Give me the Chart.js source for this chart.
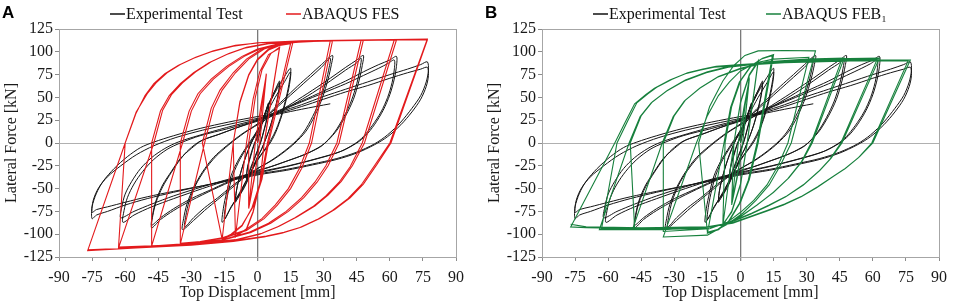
<!DOCTYPE html>
<html><head><meta charset="utf-8">
<script src="https://cdn.jsdelivr.net/npm/chart.js@4.4.1/dist/chart.umd.min.js"></script>
<style>
html,body{margin:0;padding:0;background:#fff;width:963px;height:307px;overflow:hidden}
canvas{position:absolute;top:0}
#cA{left:0}
#cB{left:483px}
</style></head>
<body>
<canvas id="cA" width="480" height="307"></canvas>
<canvas id="cB" width="480" height="307"></canvas>
<script>
// ---- tick labels ----
const xTicks = [-90,-75,-60,-45,-30,-15,0,15,30,45,60,75,90];
const yTicks = [-125,-100,-75,-50,-25,0,25,50,75,100,125];
const seriesNames = ['Experimental Test','ABAQUS FES','ABAQUS FEB\u2081'];

// ---- Experimental test (displacement mm, force kN) ----
const expL1 = [[0,0],[2,20],[4,36],[5,44],[4.5,30],[3,15],[1.5,2],[0,-8],[-2,-20],[-4,-33],[-5,-40],[-4.5,-27],[-3,-14],[-1.5,-2],[0,6],
 [2,22],[4,37],[5,43],[4.5,29],[3,14],[1.5,1],[0,-9],[-2,-22],[-4,-34],[-5,-39],[-4.5,-26],[-3,-12],[-1.5,-1],[0,8]];
const expL2 = [[2,22],[5,42],[8,58],[10,68],[9.5,55],[8,38],[6,20],[4,6],[2,-6],[0,-15],[-3,-32],[-6,-48],[-9,-60],[-10,-65],[-9.5,-52],[-8,-36],[-6,-20],[-4,-7],[-2,4],[0,12],
 [3,30],[6,48],[9,62],[10,66],[9.4,52],[7.8,35],[5.8,18],[3.8,5],[1.8,-7],[0,-16],[-3,-33],[-6,-49],[-9,-61],[-10,-64],[-9.4,-50],[-7.8,-34],[-5.8,-18],[-3.8,-5],[-1.8,5],[0,13]];
const expL3 = [[3,30],[6,46],[9,60],[12,72],[15,82],[14.5,68],[13,50],[11,32],[8.5,15],[6,3],[3,-8],[0,-18],[-4,-36],[-8,-54],[-12,-71],[-16,-87],[-15.5,-72],[-14,-54],[-12,-36],[-9,-20],[-6,-8],[-3,3],[0,14],
 [4,32],[8,50],[12,66],[15,78],[14.5,64],[13,47],[11,30],[8.5,13],[6,1],[3,-9],[0,-19],[-4,-37],[-8,-55],[-12,-70],[-15,-84],[-14.5,-69],[-13,-51],[-11,-34],[-8,-18],[-5,-6],[-2,5],[0,14]];
const expL4 = [[6,34],[12,48],[18,62],[24,75],[29,86],[34,96],[33.5,86],[32,70],[29.5,50],[26,30],[22,13],[17,0],[12,-10],[6,-20],[0,-28],[-6,-38],[-12,-50],[-18,-62],[-24,-74],[-29,-85],[-34,-95],[-33.5,-83],[-32,-67],[-29,-49],[-25,-32],[-20,-16],[-14,-3],[-7,10],[0,21],
 [6,33],[12,46],[18,59],[24,72],[29,83],[33,93],[32.5,83],[31,67],[28.5,48],[25,29],[21,12],[16.5,0],[11,-11],[5,-21],[0,-28],[-6,-37],[-12,-48],[-18,-60],[-24,-71],[-29,-82],[-33,-92],[-32.5,-80],[-31,-64],[-28,-46],[-24,-30],[-19,-15],[-13,-2],[-6,11],[0,20]];
const expL5 = [[8,32],[16,44],[25,58],[33,71],[40,83],[45,91],[48,96],[47.5,85],[46,68],[43.5,48],[40,30],[36,14],[32,3],[29,-3],[22,-12],[13,-20],[6,-26],[0,-30],[-10,-40],[-20,-51],[-30,-63],[-38,-74],[-44,-84],[-48,-93],[-47.5,-80],[-46,-65],[-43,-48],[-39,-32],[-35,-18],[-31,-7],[-26,2],[-18,9],[-9,17],[0,24],
 [8,31],[16,42],[25,55],[33,68],[40,80],[45,88],[47,93],[46.5,82],[45,65],[42.5,46],[39,28],[35,12],[31,1],[28,-5],[21,-13],[12,-21],[6,-26],[0,-31],[-10,-39],[-20,-50],[-30,-61],[-38,-72],[-44,-82],[-48,-90],[-47.5,-78],[-46,-63],[-43,-46],[-39,-31],[-35,-17],[-30,-6],[-25,3],[-17,10],[-8,18],[0,25]];
const expL6 = [[10,36],[20,46],[30,57],[40,68],[48,78],[55,86],[60,91],[63,95],[63,84],[62,70],[60,53],[57,36],[53,20],[49,8],[45,0],[38,-9],[27,-17],[14,-25],[0,-32],[-12,-39],[-25,-48],[-38,-58],[-48,-67],[-56,-75],[-62,-82],[-61.5,-70],[-60,-56],[-57,-42],[-53,-28],[-48,-16],[-42,-6],[-36,1],[-27,8],[-14,17],[0,26],
 [10,35],[20,45],[30,55],[40,65],[48,74],[55,82],[59,87],[62,91],[62,80],[61,66],[59,50],[56,34],[52,19],[48,7],[44,-1],[37,-10],[26,-18],[13,-26],[0,-33],[-12,-40],[-25,-50],[-38,-61],[-48,-70],[-56,-79],[-61,-87],[-60.5,-74],[-59,-60],[-56,-45],[-52,-31],[-47,-18],[-41,-7],[-35,0],[-26,8],[-13,16],[0,25]];
const expL7 = [[10,34],[20,42],[30,51],[40,59],[50,67],[60,75],[68,81],[74,86],[77,89],[77.5,80],[76.5,67],[74,52],[70,38],[65,23],[59,9],[53,-1],[45,-10],[36,-17],[25,-23],[13,-29],[0,-34],[-12,-40],[-25,-47],[-38,-54],[-50,-61],[-60,-68],[-68,-75],[-73,-79],[-75,-83],[-75,-70],[-73,-55],[-70,-42],[-65,-28],[-59,-15],[-53,-5],[-47,1],[-38,8],[-26,16],[-13,23],[0,29],
 [10,33],[20,40],[30,48],[40,56],[50,63],[60,71],[68,77],[74,81],[77,83],[77.5,74],[76.5,62],[74,48],[70,34],[65,20],[59,7],[53,-2],[45,-11],[36,-18],[25,-24],[13,-30],[0,-35],[-12,-41],[-25,-47],[-38,-53],[-50,-59],[-60,-65],[-68,-70],[-73,-73],[-75,-76]];
const expEnd = [[-74.5,-63],[-72,-49],[-68,-37],[-62,-25],[-55,-13],[-47,-3],[-37,6],[-25,14],[-12,21],[0,27],[10,32],[20,37],[33,43]];

// ---- ABAQUS FES (panel A) ----
const fesL1 = [[0,0],[2,40],[4,76],[1,0],[-1.5,-40],[-4,-72],[-1,0],[1.5,40],[4,75],[1,0],[-1.5,-38],[-4,-71]];
const fesL2 = [[-4,0],[-1,50],[2,80],[6,98],[10,105],[3,0],[1,-45],[-2,-75],[-5,-94],[-10,-103],[-5,0],[-2,48],[1,78],[5,97],[10,104],[3,-1],[1,-46],[-2,-76],[-5,-95],[-10,-102]];
const fesL3 = [[-11,0],[-8,45],[-4,75],[0,92],[5,103],[10,108],[16,110],[5,0],[2,-40],[-2,-70],[-7,-90],[-12,-100],[-16,-105],
 [-11,0],[-8,44],[-4,74],[0,91],[5,102],[10,107],[15,109],[4.5,0],[1.5,-41],[-2.5,-71],[-7,-91],[-12,-101],[-16,-106]];
const fesL4 = [[-25,0],[-21,38],[-17,58],[-11,77],[-5,92],[2,103],[10,109],[20,111],[34,112],[24.5,0],[20,-28],[15,-50],[9,-68],[3,-83],[-5,-96],[-15,-104],[-25,-108],[-35,-111],
 [-24,0],[-20,38],[-16,58],[-10,77],[-4,92],[3,103],[11,109],[20,111],[33,112],[23.5,0],[19,-28],[14,-50],[8,-68],[2,-83],[-6,-96],[-16,-104],[-26,-108],[-35,-110]];
const fesL5 = [[-35,0],[-31,35],[-27,54],[-21,70],[-14,84],[-7,95],[0,103],[10,109],[25,112],[48,113],[37,0],[32,-25],[27,-43],[21,-60],[14,-75],[6,-88],[-3,-98],[-15,-106],[-30,-110],[-48,-113],
 [-34,0],[-30,35],[-26,54],[-20,70],[-13,84],[-6,95],[1,103],[11,109],[25,112],[47,113],[36,0],[31,-25],[26,-43],[20,-60],[13,-75],[5,-88],[-4,-98],[-16,-106],[-30,-110],[-48,-114]];
const fesL6 = [[-48,0],[-44,35],[-40,52],[-35,65],[-29,77],[-22,88],[-14,97],[-6,104],[5,109],[30,112],[63,113],[48.5,0],[43,-25],[38,-42],[32,-57],[26,-69],[18,-81],[10,-91],[2,-99],[-10,-106],[-30,-111],[-63,-115],
 [-47,0],[-43,36],[-39,53],[-34,66],[-28,78],[-21,89],[-13,98],[-5,105],[6,110],[30,112],[62,113],[47.5,0],[42,-26],[37,-43],[31,-58],[25,-70],[17,-82],[9,-92],[1,-100],[-11,-107],[-30,-111],[-63,-114]];
const fesL7 = [[-60,0],[-55,33],[-51,52],[-47,65],[-42,76],[-36,85],[-29,93],[-21,100],[-11,106],[0,110],[20,112],[45,113],[77,114],[60,0],[53,-25],[47,-46],[41,-61],[34,-74],[27,-84],[19,-93],[11,-99],[3,-103],[-11,-108],[-30,-112],[-55,-115],[-77,-118],
 [-60,0],[-55,34],[-50,54],[-46,66],[-41,77],[-35,86],[-28,94],[-20,101],[-10,107],[1,110],[20,112],[45,113],[77,113],[60.5,0],[54,-24],[48,-45],[42,-60],[35,-73],[28,-83],[20,-92],[12,-98],[4,-102],[-10,-107],[-30,-112],[-55,-115],[-77,-117]];

// ---- ABAQUS FEB1 (panel B) ----
const febL1 = [[0,0],[2,40],[4,72],[1,0],[-1.5,-38],[-4,-68],[-1,0],[1.5,38],[4,70],[1,0],[-1.5,-36],[-4,-66]];
const febL2 = [[-3,0],[0,45],[4,75],[8,90],[3,0],[0,-45],[-4,-75],[-8,-90],[-3,0],[0,44],[4,74],[8,89],[3,-1],[0,-46],[-4,-76],[-8,-89]];
const febL3 = [[-7,0],[-4,40],[0,68],[5,85],[10,93],[15,97],[8,0],[4,-40],[0,-65],[-5,-85],[-10,-95],[-15,-99],
 [-7.5,0],[-4.5,39],[-0.5,67],[4.5,84],[9.5,92],[14.5,96],[7.5,0],[3.5,-41],[-0.5,-66],[-5.5,-86],[-10.5,-95],[-15,-98]];
const febL4 = [[-19,0],[-14,40],[-8,68],[-3,85],[2,96],[8,101],[20,101.5],[34,101],[23,0],[18,-25],[13,-46],[7,-63],[1,-77],[-6,-89],[-12,-97],[-15,-101],[-35,-103],
 [-20,0],[-15,30],[-10,52],[-5,67],[0,79],[7,88],[15,92],[31,94],[21.5,0],[17,-25],[12,-46],[6,-63],[0,-76],[-6,-87],[-14,-94],[-35,-97]];
const febL5 = [[-35,0],[-30,30],[-25,47],[-18,61],[-10,73],[0,82],[12,89],[30,92],[47,93],[32.5,0],[28,-20],[22,-38],[15,-54],[8,-67],[1,-79],[-6,-88],[-18,-94],[-49,-95],
 [-35.5,0],[-30.5,29],[-25.5,46],[-18.5,60],[-10.5,72],[-0.5,81],[11,88],[30,91],[46,92],[32,0],[27.5,-21],[21.5,-39],[14.5,-55],[7.5,-68],[0.5,-80],[-6.5,-89],[-18,-94],[-48,-94]];
const febL6 = [[-50,0],[-45,30],[-40,45],[-33,58],[-25,69],[-15,78],[-5,84],[10,88],[35,92],[63,93],[46,0],[41,-17],[36,-30],[29,-45],[21,-58],[13,-68],[5,-77],[-3,-85],[-12,-92],[-35,-95],[-64,-95],
 [-50.5,0],[-45.5,29],[-40.5,44],[-33.5,57],[-25.5,68],[-15.5,77],[-5.5,83],[9,87],[35,91],[62,92],[45.5,0],[40.5,-18],[35.5,-31],[28.5,-46],[20.5,-59],[12.5,-69],[4.5,-78],[-3.5,-86],[-12,-92],[-35,-94],[-63,-94]];
const febL7 = [[-56,0],[-51,25],[-47,44],[-42,54],[-38,61],[-31,70],[-24,77],[-17,81],[-11,84],[0,86],[20,89],[50,91],[77,91],[60,0],[54,-15],[48,-27],[43,-35],[35,-48],[28,-58],[20,-67],[12,-74],[4,-81],[-3,-87],[-15,-92],[-45,-94],[-70,-93],[-77,-92],
 [-57,0],[-52,24],[-48,43],[-43,53],[-39,60],[-32,69],[-25,76],[-18,80],[-12,83],[0,85],[20,88],[50,90],[76,90],[59.5,0],[53.5,-16],[47.5,-28],[42.5,-36],[34.5,-49],[27.5,-59],[19.5,-68],[11.5,-75],[3.5,-82],[-3.5,-88],[-15,-92],[-45,-93],[-70,-92],[-77,-89]];

// ---- build ----
const toXY = arrs => [].concat(...arrs).map(p => ({x:p[0], y:p[1]}));
const expData = toXY([expL1,expL2,expL3,expL4,expL5,expL6,expL7,expEnd]);
const fesData = toXY([fesL1,fesL2,fesL3,fesL4,fesL5,fesL6,fesL7]);
const febData = toXY([febL1,febL2,febL3,febL4,febL5,febL6,febL7]);

const SERIF = "'Liberation Serif','Times New Roman',serif";

function legendPlugin(letter, feName, feColor, item2x){
  return {
    id:'customLegend'+letter,
    afterDraw(chart){
      const c = chart.ctx;
      c.save();
      c.font = "bold 17px 'Liberation Sans',Arial,sans-serif";
      c.fillStyle = '#000';
      c.textBaseline = 'alphabetic';
      c.fillText(letter, 2, 18);
      c.font = "16px " + SERIF;
      c.textBaseline = 'middle';
      const y = 14;
      c.lineWidth = 1.5;
      c.strokeStyle = '#111';
      c.beginPath(); c.moveTo(110,y); c.lineTo(125,y); c.stroke();
      c.fillStyle = '#111';
      c.fillText(seriesNames[0], 126, y+1);
      c.strokeStyle = feColor;
      c.beginPath(); c.moveTo(item2x,y); c.lineTo(item2x+15,y); c.stroke();
      c.fillText(feName, item2x+16, y+1);
      c.restore();
    }
  };
}

function makeChart(id, feData, feName, feColor, letter, item2x){
  const gridColor = '#a6a6a6';
  new Chart(document.getElementById(id), {
    type:'scatter',
    data:{datasets:[
      {label:feName, data:feData, showLine:true, borderColor:feColor, backgroundColor:feColor, borderWidth:1.1, pointRadius:0, tension:0, order:0},
      {label:seriesNames[0], data:expData, showLine:true, borderColor:'#161616', backgroundColor:'#161616', borderWidth:1, pointRadius:0, tension:0.3, order:1}
    ]},
    options:{
      responsive:false, animation:false, devicePixelRatio:1,
      layout:{padding:{left:0,right:24,top:29,bottom:0}},
      plugins:{legend:{display:false}, tooltip:{enabled:false}},
      scales:{
        x:{type:'linear', min:-90, max:90,
          afterBuildTicks:s=>{s.ticks = xTicks.map(v=>({value:v}));},
          afterFit:s=>{s.height=50;},
          ticks:{autoSkip:false, maxRotation:0, padding:7, color:'#1a1a1a', font:{family:SERIF, size:16}, callback:v=>String(v)},
          grid:{drawOnChartArea:true, drawTicks:true, tickLength:4, tickColor:'#8c8c8c',
            color:ctx=>{const v=ctx.tick&&ctx.tick.value; if(v===0) return '#7a7a7a'; if(v===-90||v===90) return gridColor; return 'rgba(0,0,0,0)';},
            lineWidth:ctx=>{const v=ctx.tick&&ctx.tick.value; return v===0?1.3:1;}},
          border:{display:true, color:gridColor, width:1},
          title:{display:true, text:'Top Displacement [mm]', color:'#1a1a1a', font:{family:SERIF, size:16}, padding:{top:0,bottom:5}}
        },
        y:{type:'linear', min:-125, max:125,
          afterBuildTicks:s=>{s.ticks = yTicks.map(v=>({value:v}));},
          afterFit:s=>{s.width=59;},
          ticks:{autoSkip:false, padding:2, color:'#1a1a1a', font:{family:SERIF, size:16}, callback:v=>String(v)},
          grid:{drawOnChartArea:true, drawTicks:true, tickLength:4, tickColor:'#8c8c8c',
            color:ctx=>{const v=ctx.tick&&ctx.tick.value; if(v===0) return '#b0b0b0'; if(v===-125||v===125) return gridColor; return 'rgba(0,0,0,0)';}},
          border:{display:true, color:gridColor, width:1},
          title:{display:true, text:'Lateral Force [kN]', color:'#1a1a1a', font:{family:SERIF, size:16}, padding:{top:2,bottom:2}}
        }
      }
    },
    plugins:[legendPlugin(letter, feName, feColor, item2x)]
  });
}

makeChart('cA', fesData, seriesNames[1], '#e31a1c', 'A', 286);
makeChart('cB', febData, seriesNames[2], '#17803d', 'B', 283);
</script>
</body></html>
